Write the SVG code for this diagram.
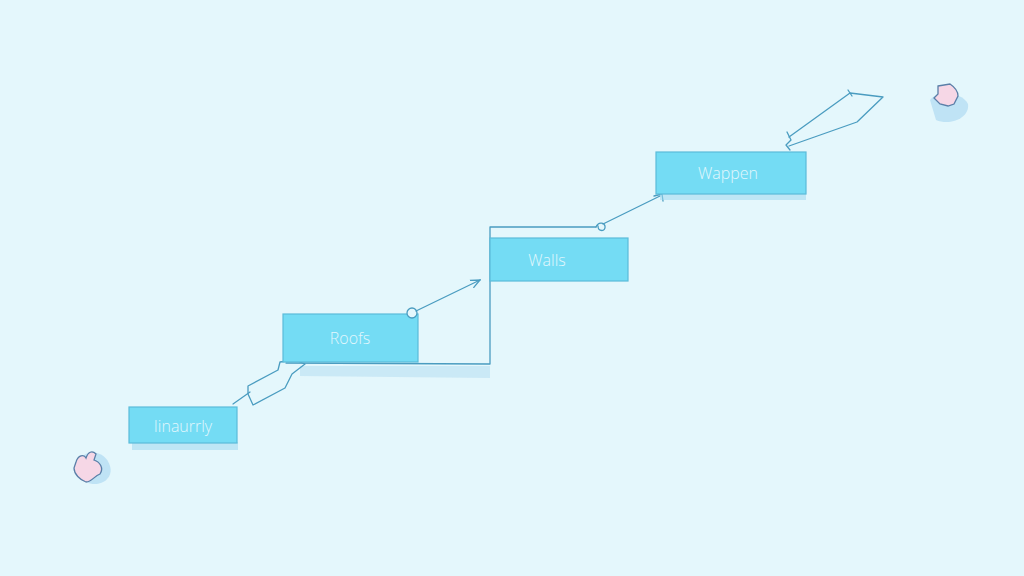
<svg xmlns="http://www.w3.org/2000/svg" width="1024" height="576" viewBox="0 0 1024 576">
<defs>
<style>
.box{fill:#74dcf4;stroke:#5bbbd9;stroke-width:1.2}
.shadow{fill:#9fd8ee;opacity:0.55}
.lbl{font-family:"Open Sans","Noto Sans",sans-serif;font-weight:300;font-size:16px;fill:#e2f7fd;text-anchor:middle;dominant-baseline:central}
.ln{fill:none;stroke:#4a9cc0;stroke-width:1.3;stroke-linejoin:round;stroke-linecap:round}
.blob{fill:#f6d7e6;stroke:#5a7fa8;stroke-width:1.3}
.blobsh{fill:#bfe3f5}
</style>
<marker id="ah" viewBox="0 0 10 10" refX="9" refY="5" markerWidth="8" markerHeight="8" orient="auto">
<path d="M0,1 L9,5 L0,9" fill="none" stroke="#4a9cc0" stroke-width="1.3"/>
</marker>
</defs>
<rect width="1024" height="576" fill="#e4f7fc"/>

<g id="decor">
<path class="blobsh" d="M80,458 C90,448 106,452 110,466 C114,480 98,488 86,482 Z"/>
<path class="blob" d="M76,462 C78,455 84,454 86,458 C88,452 92,450 96,454 L94,460 C100,462 104,468 100,474 C94,476 92,482 86,482 C80,480 74,474 74,468 Z"/>
<path class="blobsh" d="M930,100 C938,90 962,92 968,104 C970,118 950,126 936,120 Z"/>
<path class="blob" d="M938,86 L950,84 C956,88 958,92 958,96 L954,104 L948,106 L940,104 L934,98 L938,94 Z"/>
</g>

<g id="connectors">
<path d="M300,366 L490,366 L490,378 L300,376 Z" fill="#bfe3f3" opacity="0.7"/>
<path class="ln" d="M233,404 L250,392"/>
<path class="ln" d="M248,386 L278,370 L280,362 L295,360 L305,364 L292,374 L285,388 L253,405 L248,394 Z"/>
<path class="ln" d="M286,363 L490,364 L490,227 L596,227"/>
<path class="ln" d="M596,227 C598,222 604,222 605,226 C606,232 598,232 598,226"/>
<path class="ln" d="M603,224 L660,196"/>
<path class="ln" d="M654,196 L662,194 L663,201"/>
<path class="ln" d="M789,137 L850,93 L883,97 L857,122 L789,146"/>
<path class="ln" d="M787,132 L791,140 L786,145 L790,150"/>
<path class="ln" d="M848,90 L852,96"/>
</g>

<g id="n1">
<rect class="shadow" x="132" y="442" width="106" height="8"/>
<rect class="box" x="129" y="407" width="108" height="36"/>
<text class="lbl" x="183" y="426">Iinaurrly</text>
</g>
<g id="n2">
<rect class="box" x="283" y="314" width="135" height="48"/>
<text class="lbl" x="350" y="338">Roofs</text>
</g>
<g id="n3">
<rect class="box" x="490" y="238" width="138" height="43"/>
<text class="lbl" x="547" y="260">Walls</text>
</g>
<g id="n4">
<rect class="shadow" x="660" y="193" width="146" height="7"/>
<rect class="box" x="656" y="152" width="150" height="42"/>
<text class="lbl" x="728" y="173">Wappen</text>
</g>
<g id="roofs-arrow">
<circle cx="412" cy="313" r="5" fill="#e4f7fc" stroke="#4a9cc0" stroke-width="1.3"/>
<path class="ln" d="M416,311 L480,280" marker-end="url(#ah)"/>
</g>
</svg>
